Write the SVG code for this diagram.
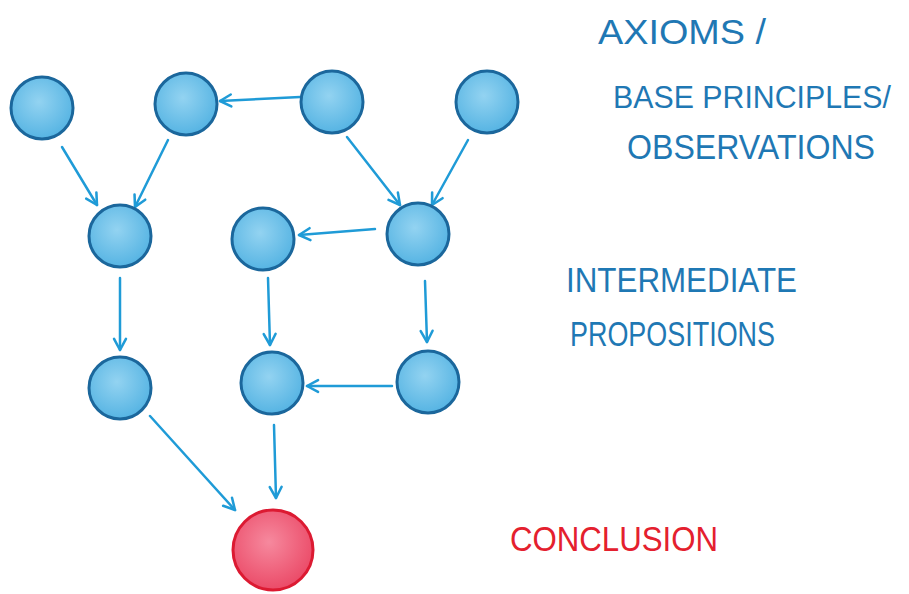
<svg xmlns="http://www.w3.org/2000/svg" width="909" height="594" viewBox="0 0 909 594">
<style>
.n{fill:url(#gb);stroke:#1b679c;stroke-width:3}
.r{fill:url(#gr);stroke:#dc1a32;stroke-width:3}
.e{fill:none;stroke:#1f9bd7;stroke-width:2.5;stroke-linecap:round;marker-end:url(#ah)}
.t{font-family:"Liberation Sans",Arial,sans-serif;font-size:35px;fill:#1f78b4}
.tr{font-family:"Liberation Sans",Arial,sans-serif;font-size:35px;fill:#e4202e}
</style>
<defs>
<radialGradient id="gb" cx="45%" cy="40%" r="60%">
<stop offset="0" stop-color="#93d3f1"/>
<stop offset="1" stop-color="#56b4e3"/>
</radialGradient>
<radialGradient id="gr" cx="45%" cy="40%" r="60%">
<stop offset="0" stop-color="#f6899e"/>
<stop offset="1" stop-color="#eb4b68"/>
</radialGradient>
<marker id="ah" viewBox="0 0 20 20" refX="18" refY="10" markerWidth="17" markerHeight="17" markerUnits="userSpaceOnUse" orient="auto" overflow="visible">
<path d="M5,3 L18,10 L5,17" fill="none" stroke="#1f9bd7" stroke-width="3" stroke-linecap="round" stroke-linejoin="round"/>
</marker>
</defs>
<rect width="909" height="594" fill="#ffffff"/>
<g id="connectors">
<line class="e" x1="300" y1="97" x2="220" y2="101"/>
<line class="e" x1="62" y1="147" x2="97" y2="205"/>
<line class="e" x1="168" y1="140" x2="135" y2="207"/>
<line class="e" x1="347" y1="137" x2="400" y2="205"/>
<line class="e" x1="468" y1="140" x2="432" y2="205"/>
<line class="e" x1="375" y1="229" x2="299" y2="235"/>
<line class="e" x1="120" y1="278" x2="120" y2="350"/>
<line class="e" x1="268" y1="278" x2="270" y2="345"/>
<line class="e" x1="425" y1="281" x2="427" y2="342"/>
<line class="e" x1="392" y1="386" x2="307" y2="386"/>
<line class="e" x1="150" y1="416" x2="235" y2="510"/>
<line class="e" x1="274" y1="425" x2="276" y2="498"/>
</g>
<g id="n1"><circle class="n" cx="42" cy="108" r="31"/></g>
<g id="n2"><circle class="n" cx="186" cy="104" r="31"/></g>
<g id="n3"><circle class="n" cx="332" cy="102" r="31"/></g>
<g id="n4"><circle class="n" cx="487" cy="102" r="31"/></g>
<g id="n5"><circle class="n" cx="120" cy="236" r="31"/></g>
<g id="n6"><circle class="n" cx="263" cy="239" r="31"/></g>
<g id="n7"><circle class="n" cx="418" cy="234" r="31"/></g>
<g id="n8"><circle class="n" cx="120" cy="388" r="31"/></g>
<g id="n9"><circle class="n" cx="272" cy="383" r="31"/></g>
<g id="n10"><circle class="n" cx="428" cy="382" r="31"/></g>
<g id="n11"><circle class="r" cx="273" cy="550" r="40"/></g>
<g id="labels">
<text class="t" x="598" y="44" textLength="168" lengthAdjust="spacingAndGlyphs">AXIOMS /</text>
<text class="t" x="613" y="108" style="font-size:31px" textLength="278" lengthAdjust="spacingAndGlyphs">BASE PRINCIPLES/</text>
<text class="t" x="627" y="159" textLength="248" lengthAdjust="spacingAndGlyphs">OBSERVATIONS</text>
<text class="t" x="566" y="292" textLength="231" lengthAdjust="spacingAndGlyphs">INTERMEDIATE</text>
<text class="t" x="570" y="346" textLength="205" lengthAdjust="spacingAndGlyphs">PROPOSITIONS</text>
<text class="tr" x="510" y="551" textLength="208" lengthAdjust="spacingAndGlyphs">CONCLUSION</text>
</g>
</svg>
